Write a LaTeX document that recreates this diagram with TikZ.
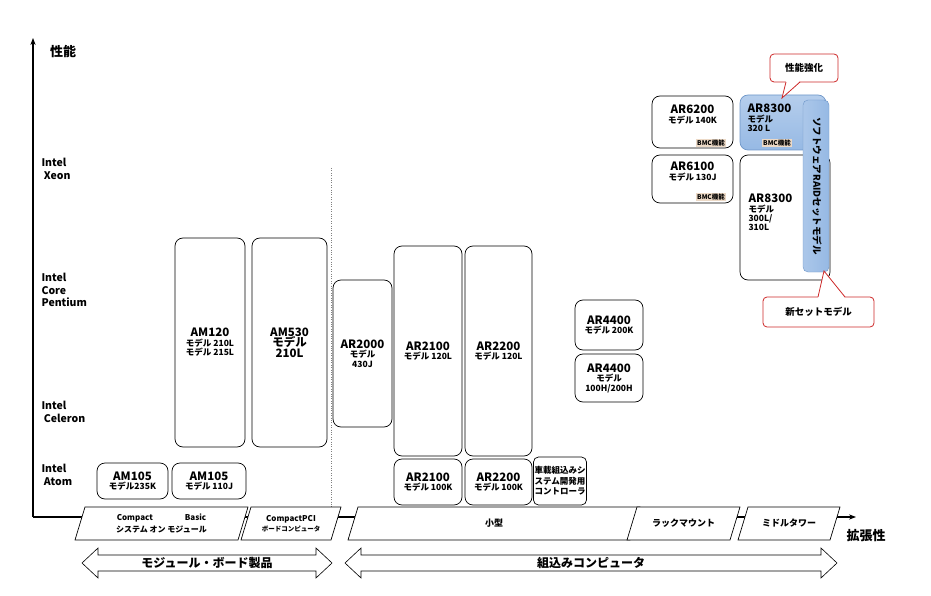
\documentclass[tikz,border=0pt]{standalone}
\usepackage{fontspec}
\setmainfont{Noto Sans CJK JP}
\usetikzlibrary{arrows.meta}
\definecolor{sb}{RGB}{150,185,228}
\definecolor{sbd}{RGB}{110,150,200}
\definecolor{cr}{RGB}{205,40,40}
\begin{document}
\begin{tikzpicture}[x=1pt,y=-1pt,
 bx/.style={draw,rounded corners=8pt,fill=white,line width=0.7pt,align=center,font=\bfseries\fontsize{11.5}{12.5}\selectfont,inner sep=1pt},
 bc/.style={fill=brown!30!white,font=\bfseries\fontsize{6.5}{6.5}\selectfont,inner sep=1pt},
 lab/.style={font=\bfseries\fontsize{10.5}{12.5}\selectfont,align=left,anchor=north west},
 cl/.style={draw=cr,line width=0.8pt,fill=white,rounded corners=4pt,font=\bfseries\fontsize{9.5}{10}\selectfont}]
\useasboundingbox (0,0) rectangle (931,596);
% axes
\coordinate (o) at (33,517);
\coordinate (ytop) at (33,38);
\coordinate (xend) at (856,517);
\draw[line width=1.2pt,-{Stealth[length=7pt]}] (o)--(ytop);
\draw[line width=1.2pt,-{Stealth[length=7pt]}] (o)--(xend);
\node[font=\bfseries\fontsize{13}{13}\selectfont] (yl) at (63,52) {性能};
\node[font=\bfseries\fontsize{13}{13}\selectfont] (xl) at (866,536) {拡張性};
\node[lab] (l1) at (38,155) {Intel\\\ Xeon};
\node[lab] (l2) at (38,270) {Intel\\Core\\Pentium};
\node[lab] (l3) at (38,398) {Intel\\\ Celeron};
\node[lab] (l4) at (38,461) {Intel\\\ Atom};
\coordinate (d1) at (331,168); \coordinate (d2) at (331,517);
\draw[dotted,gray] (d1)--(d2);
% boxes
\newcommand{\bxn}[6]{\node[bx,minimum width=#4-#2,minimum height=#5-#3] (#1) at ({(#2+#4)/2},{(#3+#5)/2}) {#6};}
\newcommand{\sm}{\fontsize{8.5}{9.5}\selectfont}
\bxn{a1}{97}{463}{168}{499}{AM105\\[-3pt]{\sm モデル235K}}
\bxn{a2}{172}{463}{246}{499}{AM105\\[-3pt]{\sm モデル 110J}}
\bxn{a3}{175}{238}{245}{447}{AM120\\[-3pt]{\sm モデル 210L}\\[-3pt]{\sm モデル 215L}}
\bxn{a4}{252}{238}{327}{447}{AM530\\[-2pt]モデル\\[-2pt]210L}
\bxn{b1}{333}{280}{392}{427}{AR2000\\[-3pt]{\sm モデル}\\[-3pt]{\sm 430J}}
\bxn{b2}{394}{246}{462}{456}{AR2100\\[-3pt]{\sm モデル 120L}}
\bxn{b3}{465}{246}{532}{456}{AR2200\\[-3pt]{\sm モデル 120L}}
\bxn{b4}{394}{459}{462}{505}{AR2100\\[-3pt]{\sm モデル 100K}}
\bxn{b5}{465}{459}{532}{505}{AR2200\\[-3pt]{\sm モデル 100K}}
\node[bx,rounded corners=5pt,minimum width=47,minimum height=48,align=left,font=\bfseries\fontsize{8.5}{10.5}\selectfont] (b6) at (560,481) {車載組込みシ\\ステム開発用\\コントローラ};
\bxn{c1}{575}{300}{643}{350}{AR4400\\[-3pt]{\sm モデル 200K}}
\bxn{c2}{575}{354}{643}{402}{AR4400\\[-3pt]{\sm モデル}\\[-3pt]{\sm 100H/200H}}
\bxn{d3}{652}{96}{733}{148}{AR6200\\[-3pt]{\sm モデル 140K}\\[3pt]}
\bxn{d4}{652}{155}{733}{203}{AR6100\\[-3pt]{\sm モデル 130J}\\[3pt]}
\node[bc] (m1) at (711,143) {BMC機能};
\node[bc] (m2) at (711,197) {BMC機能};
\node[bx,minimum width=90,minimum height=125] (e2) at (785,217.5) {};
\node[lab,font=\bfseries\fontsize{11.5}{10}\selectfont] (e2t) at (745,190) {AR8300\\[0pt]{\sm モデル}\\[-1pt]{\sm 300L/}\\[-1pt]{\sm 310L}};
\node[bx,draw=sbd,top color=sb!70!white,bottom color=sb,minimum width=86,minimum height=55] (e1) at (783,122.5) {};
\node[lab,font=\bfseries\fontsize{11.5}{10}\selectfont] (e1t) at (744,100) {AR8300\\[0pt]{\sm モデル}\\[-1pt]{\sm 320 L}};
\node[bc] (m3) at (777,143) {BMC機能};
\node[draw=sbd,left color=sb!80!white,right color=sb,rounded corners=5pt,minimum width=26,minimum height=172] (e3) at (816,186) {};
\node[rotate=-90,font=\bfseries\fontsize{9.5}{10}\selectfont] (e3t) at (817,186) {ソフトウェアRAIDセットモデル};
% callouts
\node[cl,minimum width=68,minimum height=28] (k1) at (804,68) {性能強化};
\coordinate (k1t) at (782,98);
\fill[white] (786,81) -- (k1t) -- (800,81) -- cycle;
\draw[cr,line width=0.8pt] (786,82) -- (k1t) -- (800,82);
\node[cl,minimum width=111,minimum height=30] (k2) at (818.5,312) {新セットモデル};
\coordinate (k2t) at (824,271);
\fill[white] (818,298) -- (k2t) -- (845,298) -- cycle;
\draw[cr,line width=0.8pt] (818,297) -- (k2t) -- (845,297);
% parallelograms
\newcommand{\para}[4]{\draw[fill=white,line width=0.7pt] (#1+10,507)--(#2,507)--(#2-10,540)--(#1,540)--cycle; \node[align=center,font=\bfseries\fontsize{#4}{#4}\selectfont] at ({(#1+#2)/2},523.5) {#3};}
\para{75}{248}{Compact\hspace{4em}Basic\\[2pt]システム オン モジュール}{8}
\para{241}{341}{CompactPCI\\[2pt]{\fontsize{6.5}{6.5}\selectfont ボードコンピュータ}}{8}
\para{348}{640}{小型}{9}
\para{627}{740}{ラックマウント}{9}
\para{738}{840}{ミドルタワー}{9}
% double arrows
\newcommand{\darr}[2]{\draw[fill=white,line width=0.6pt] (#1,563)--(#1+16,548)--(#1+16,555)--(#2-16,555)--(#2-16,548)--(#2,563)--(#2-16,578)--(#2-16,571)--(#1+16,571)--(#1+16,578)--cycle;}
\darr{82}{332}
\node[font=\bfseries\fontsize{12}{12}\selectfont] (t1) at (207,563) {モジュール・ボード製品};
\darr{345}{837}
\node[font=\bfseries\fontsize{12}{12}\selectfont] (t2) at (591,563) {組込みコンピュータ};
\end{tikzpicture}
\end{document}
